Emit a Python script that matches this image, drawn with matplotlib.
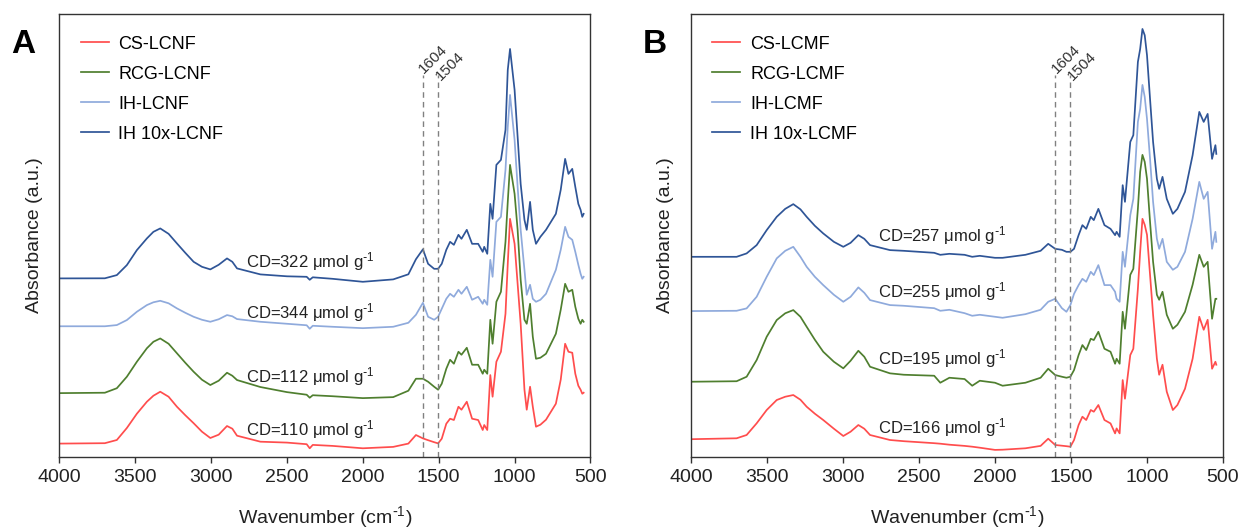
import matplotlib
matplotlib.use("Agg")
import matplotlib.pyplot as plt

plt.rcParams['font.family'] = ['Liberation Sans', 'DejaVu Sans']
plt.rcParams['mathtext.default'] = 'regular'

# panel A wavenumbers (cm-1) and absorbance (a.u., stacked)
wn_a = [4000, 3700, 3621, 3555, 3489, 3423, 3380, 3335, 3280, 3225, 3170, 3115, 3060, 3005,
        2950, 2895, 2860, 2829, 2675, 2500, 2370, 2350, 2330, 2200, 2000, 1800, 1700, 1650,
        1604, 1570, 1530, 1504, 1480, 1450, 1425, 1400, 1370, 1350, 1315, 1280, 1240, 1210,
        1200, 1180, 1160, 1145, 1120, 1090, 1060, 1045, 1030, 1000, 980, 960, 935, 920,
        898, 880, 859, 830, 793, 728, 696, 667, 645, 620, 600, 580, 565, 554, 545]
cs_lcnf = [13.1, 13.5, 16.7, 28.7, 43, 55, 61, 65, 60, 50, 41.5, 33.5, 25, 18.7,
           22, 30.7, 28, 21, 15, 14.1, 12.5, 8.4, 11.8, 10.8, 8.4, 9.8, 13.1, 21.7,
           18.3, 16.5, 14.5, 13.3, 18, 33, 38, 36.7, 50, 47, 55, 38, 36.7, 26.7,
           31.7, 26.7, 81.7, 60, 95, 105, 143, 193, 238, 213, 173, 133, 67, 47,
           70, 50, 30, 32, 37, 53, 77, 113, 105, 104, 83, 71, 67, 63, 64]
rcg_lcnf = [63.6, 64, 68.5, 80, 95, 108.5, 115, 118.3, 113, 103.5, 94, 85, 77, 71.7,
            76, 84, 81, 76.7, 69.7, 64.6, 62, 59, 61.5, 60.5, 58.6, 59.6, 66, 78,
            78, 75, 70, 67, 73, 88, 97, 93, 105, 102, 109, 92, 92, 83,
            87, 83, 137, 113, 155, 165, 215, 255, 292, 263, 227, 177, 137, 133,
            153, 120, 98, 99, 103, 123, 147, 173, 165, 167, 150, 138, 133, 137, 135]
ih_lcnf = [130.5, 130.5, 131.7, 136.7, 145, 151.7, 154.5, 156, 153.5, 148.4, 144, 140, 137, 135,
           137.5, 141.7, 140.5, 137.7, 135, 133, 131.5, 128, 131, 130, 128.6, 130, 134, 142,
           154, 140, 137, 140, 148, 158, 163, 160, 167, 163, 170, 157, 160, 153,
           157, 152, 197, 180, 235, 240, 287, 330, 362, 317, 270, 227, 187, 162,
           172, 158, 155, 157, 163, 187, 207, 230, 220, 217, 205, 192, 183, 178, 180]
ih10_lcnf = [178.4, 178.5, 181.7, 191.7, 206.7, 218.4, 225, 228.4, 223, 213.4, 204, 195, 190, 187.4,
             192, 198.4, 195, 188.4, 182.4, 180.5, 180, 177, 179.5, 178, 175, 177.4, 182.5, 197.6,
             207.5, 193, 188, 188, 193, 207, 215, 212, 222, 218, 227, 213, 213, 205,
             210, 203, 253, 238, 292, 297, 327, 387, 408, 367, 320, 273, 237, 227,
             255, 227, 213, 220, 227, 243, 267, 298, 283, 288, 270, 253, 247, 240, 243]

# panel B
wn_b = [4000, 3700, 3634, 3568, 3502, 3436, 3380, 3327, 3280, 3239, 3185, 3130, 3060, 2998,
        2950, 2899, 2860, 2822, 2691, 2600, 2400, 2360, 2300, 2200, 2150, 2100, 2000, 1950,
        1800, 1700, 1650, 1604, 1560, 1530, 1504, 1480, 1450, 1425, 1400, 1370, 1350, 1320,
        1280, 1240, 1210, 1200, 1180, 1160, 1145, 1110, 1090, 1060, 1045, 1030, 1015, 1000,
        980, 960, 935, 920, 898, 870, 830, 800, 750, 700, 656, 627, 601, 572, 550, 544]
cs_lcmf = [17.5, 18.4, 21.7, 33.4, 46.7, 56.7, 60, 61.7, 57, 50, 43, 36.7, 28, 20.7,
           25, 31.7, 28, 21.7, 16.7, 15.5, 13.5, 13, 12, 10.8, 10, 9, 6.8, 7,
           8.4, 10.8, 18, 11.7, 11, 10.5, 10, 16.7, 31.7, 40, 36.7, 46.7, 45, 51.7,
           36.7, 33.3, 23.3, 28.3, 23.3, 76.7, 58, 101.7, 108, 168, 205, 238, 232, 222,
           182, 142, 98, 82, 92, 65, 46.7, 51.7, 68, 98, 140, 127, 137, 88, 95, 92]
rcg_lcmf = [75, 75.5, 80, 96.7, 120, 136.7, 143.5, 146.7, 140, 130, 117, 105, 95, 88.4,
            96, 106, 100, 90, 83.4, 82, 81, 74, 79, 77.7, 71, 76, 74, 71,
            74, 79, 88, 81.7, 80, 79, 80, 86.7, 101.7, 111.7, 106.7, 118, 116.7, 125,
            108, 105, 93, 98, 93, 145, 128, 182, 188, 248, 285, 302, 295, 278,
            235, 195, 162, 157, 165, 142, 128, 132, 145, 172, 202, 190, 195, 138, 158, 158]
ih_lcmf = [145.7, 146, 148.4, 160, 180, 198.4, 206, 210, 200, 190, 180, 171.7, 162, 155,
           160, 169.4, 164, 156.7, 151.7, 151, 148.6, 146, 147, 143.6, 141, 142, 140, 139,
           142.6, 147, 155, 158, 148.6, 145, 151.7, 163, 171.7, 178, 175, 185, 181.7, 191.7,
           171.7, 171.7, 165, 158, 155, 205, 190, 241.7, 258, 335, 348, 372, 360, 338,
           298, 255, 218, 208, 218, 195, 187, 190, 205, 238, 275, 258, 265, 208, 225, 215]
ih10_lcmf = [200, 200, 203.4, 211.7, 226.7, 240, 248, 252.7, 247.5, 240, 231, 223.4, 215, 210,
             214, 221.7, 218, 211.7, 206.7, 206, 204, 202, 203, 202, 200, 201, 199, 199,
             202, 206, 213, 208, 207, 205, 205, 208, 221.7, 231.7, 228, 240, 236.7, 248,
             231.7, 228, 221.7, 225, 220, 271.7, 255, 315, 321.7, 395, 408, 428, 421.7, 401.7,
             358, 315, 278, 268, 280, 258, 243, 248, 265, 301.7, 345, 335, 343, 298, 311.7, 303]

labels_a = ['CS-LCNF', 'RCG-LCNF', 'IH-LCNF', 'IH 10x-LCNF']
labels_b = ['CS-LCMF', 'RCG-LCMF', 'IH-LCMF', 'IH 10x-LCMF']
cd_a = [110, 112, 344, 322]
cd_b = [166, 195, 255, 257]
cd_y_a = [27, 80, 144, 195]
cd_y_b = [29, 98, 165, 221]

colors = ['#FF4D4D', '#4F7F2F', '#8FAADC', '#2F5597']

fig = plt.figure(figsize=(12.41, 5.29), dpi=100)
ax_a = fig.add_axes([0.0478, 0.1367, 0.4280, 0.8369])
ax_b = fig.add_axes([0.5568, 0.1367, 0.4287, 0.8369])


def panel(ax, wn, series, labels, cds, cd_y, letter):
    for y, lab, c in zip(series, labels, colors):
        ax.plot(wn, y, color=c, lw=1.25, label=lab)
    for m in [1604, 1504]:
        ax.plot([m, m], [0, 382], color='#808080', lw=1, ls=(0, (4, 3)))
    ax.annotate('1604', xy=(1604, 382), xytext=(1, 1), textcoords='offset points',
                rotation=45, rotation_mode='anchor', ha='left', va='baseline',
                fontsize=11, color='#333333')
    ax.annotate('1504', xy=(1504, 376), xytext=(2, 0), textcoords='offset points',
                rotation=45, rotation_mode='anchor', ha='left', va='baseline',
                fontsize=11, color='#333333')
    for cd, yy in zip(cds, cd_y):
        ax.text(2768, yy, 'CD=%d μmol g$^{\\text{-}1}$' % cd, fontsize=12,
                ha='left', va='center', color='#222222')
    ax.set_xlim(4000, 500)
    ax.set_ylim(0, 443)
    ax.set_xticks([4000, 3500, 3000, 2500, 2000, 1500, 1000, 500])
    ax.set_yticks([])
    ax.tick_params(axis='x', direction='out', length=4, width=1,
                   labelsize=14, color='#333333', labelcolor='#222222', pad=5)
    for s in ax.spines.values():
        s.set_color('#333333')
        s.set_linewidth(1)
    ax.set_xlabel('Wavenumber (cm$^{\\text{-}1}$)', fontsize=14, labelpad=13, color='#222222')
    ax.set_ylabel('Absorbance (a.u.)', fontsize=14, labelpad=12, color='#222222')
    ax.legend(loc='upper left', bbox_to_anchor=(0.04, 0.951), frameon=False,
              fontsize=13, handlelength=1.55, handletextpad=0.55,
              labelspacing=0.72, borderpad=0, borderaxespad=0)
    pos = ax.get_position()
    fig.text(pos.x0 - 0.029, 0.915, letter, fontsize=24, fontweight='bold',
             ha='center', va='center')


panel(ax_a, wn_a, [cs_lcnf, rcg_lcnf, ih_lcnf, ih10_lcnf], labels_a, cd_a, cd_y_a, 'A')
panel(ax_b, wn_b, [cs_lcmf, rcg_lcmf, ih_lcmf, ih10_lcmf], labels_b, cd_b, cd_y_b, 'B')

fig.savefig('out.png', dpi=100)
